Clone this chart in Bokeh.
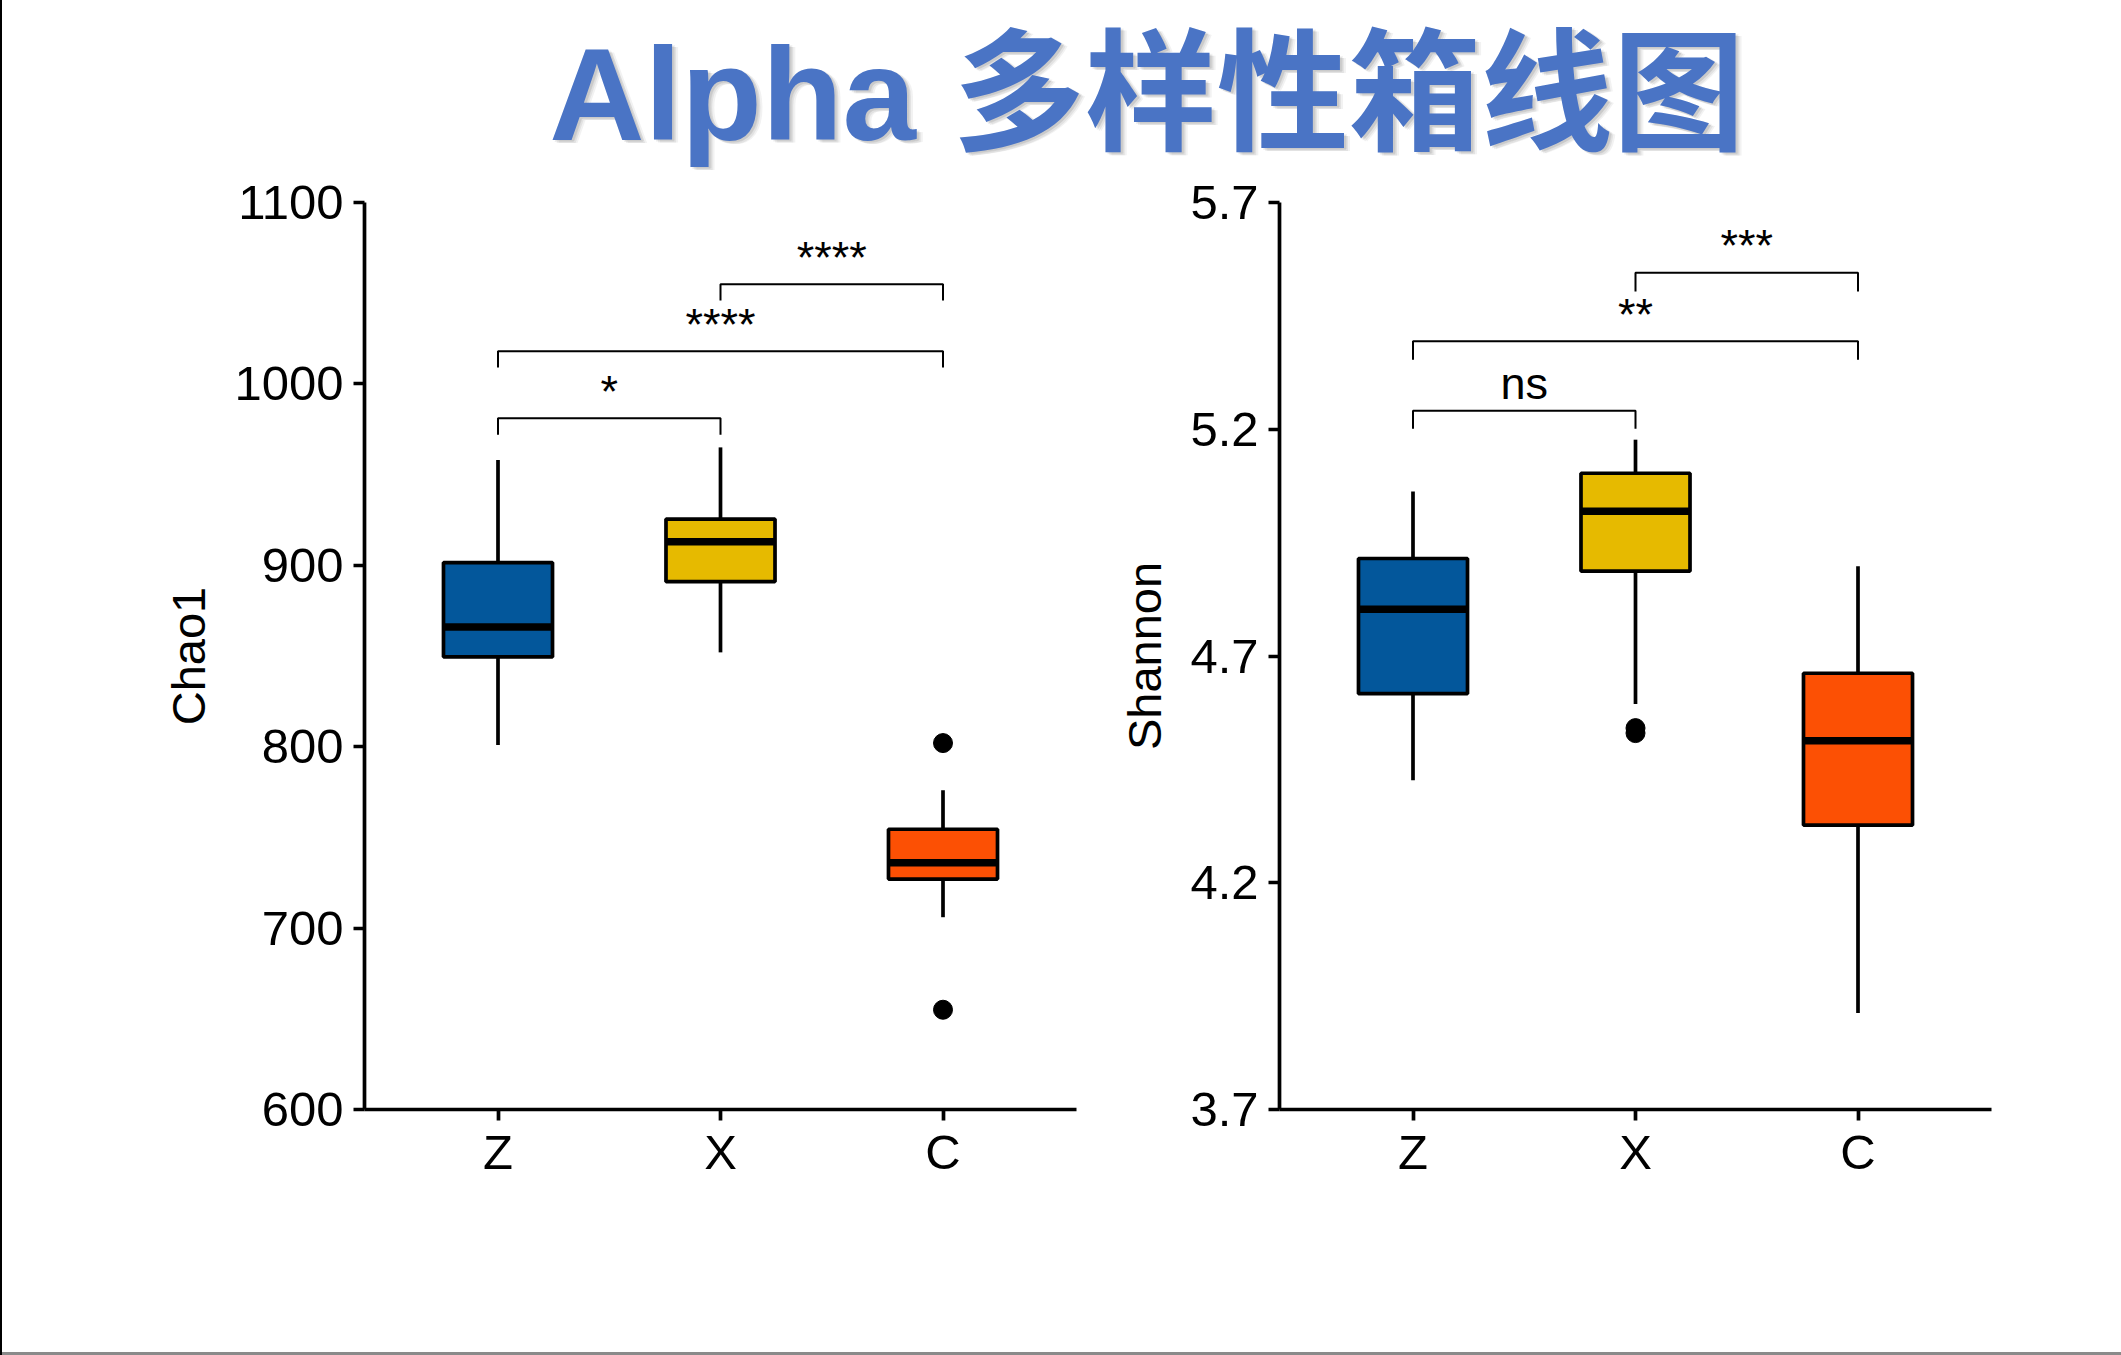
from bokeh.plotting import figure
from bokeh.models import Range1d, FixedTicker, PrintfTickFormatter, Div
from bokeh.layouts import row, column
from bokeh.core.properties import value
from bokeh.embed import file_html
from bokeh.resources import INLINE

# ---------------- data ----------------
title_text = "Alpha 多样性箱线图"
categories = ["Z", "X", "C"]

chao1_lower = [801, 852, 706]
chao1_q1 = [849.5, 891, 727]
chao1_median = [866, 913, 736]
chao1_q3 = [901.5, 925.5, 754.5]
chao1_upper = [958, 965, 776]
chao1_outlier_group = ["C", "C"]
chao1_outlier_value = [802, 655]
chao1_ticks = [600, 700, 800, 900, 1000, 1100]

shannon_lower = [4.426, 4.594, 3.913]
shannon_q1 = [4.617, 4.887, 4.327]
shannon_median = [4.803, 5.019, 4.513]
shannon_q3 = [4.915, 5.103, 4.662]
shannon_upper = [5.063, 5.177, 4.898]
shannon_outlier_group = ["X", "X"]
shannon_outlier_value = [4.541, 4.530]
shannon_ticks = [3.7, 4.2, 4.7, 5.2, 5.7]

bracket_from = ["Z", "Z", "X"]
bracket_to = ["X", "C", "C"]
chao1_bracket_y = [981, 1018, 1055]
chao1_bracket_tip = [972, 1009, 1046]
chao1_labels = ["*", "****", "****"]
shannon_bracket_y = [5.241, 5.394, 5.545]
shannon_bracket_tip = [5.201, 5.353, 5.504]
shannon_labels = ["ns", "**", "***"]

# ---------------- style ----------------
FONT = "Liberation Sans"
box_colors = ["#03579B", "#E6BA00", "#FC5004"]
pos = {c: i + 1 for i, c in enumerate(categories)}
LW = 3.7
TITLE_H = 174
PLOT_H = 1355 - TITLE_H - 3


def box_panel(width, lower, q1, med, q3, upper, out_g, out_v, ticks, yr,
              b_y, b_tip, b_lab, ylabel, fmt, mb_left, mb_right):
    p = figure(width=width, height=PLOT_H, output_backend="svg", toolbar_location=None,
               x_range=Range1d(0.4, 3.6), y_range=Range1d(*yr),
               min_border_left=mb_left, min_border_right=mb_right,
               min_border_top=202 - TITLE_H, min_border_bottom=243)
    p.grid.visible = False
    p.outline_line_color = None
    p.background_fill_color = "white"
    p.border_fill_color = "white"
    xs = [pos[c] for c in categories]
    # whiskers
    p.segment(x0=xs, y0=q3, x1=xs, y1=upper, line_color="black", line_width=LW)
    p.segment(x0=xs, y0=lower, x1=xs, y1=q1, line_color="black", line_width=LW)
    # boxes
    p.vbar(x=xs, width=0.49, bottom=q1, top=q3, fill_color=box_colors,
           line_color="black", line_width=LW)
    # medians
    p.segment(x0=[x - 0.245 for x in xs], y0=med, x1=[x + 0.245 for x in xs], y1=med,
              line_color="black", line_width=7.5)
    # outliers
    p.scatter(x=[pos[g] for g in out_g], y=out_v, size=19, color="black")
    # significance brackets
    bx = []
    by = []
    for a, b, y, t in zip(bracket_from, bracket_to, b_y, b_tip):
        bx.append([pos[a], pos[a], pos[b], pos[b]])
        by.append([t, y, y, t])
    p.multi_line(xs=bx, ys=by, line_color="black", line_width=2)
    p.text(x=[(pos[a] + pos[b]) / 2 for a, b in zip(bracket_from, bracket_to)], y=b_y,
           text=b_lab, text_align="center", text_baseline="alphabetic", y_offset=-27,
           text_font=value(FONT), text_font_size="45px", text_color="black")
    # axes
    p.xaxis.ticker = FixedTicker(ticks=xs)
    p.xaxis.major_label_overrides = {pos[c]: c for c in categories}
    p.yaxis.ticker = FixedTicker(ticks=ticks)
    if fmt:
        p.yaxis.formatter = PrintfTickFormatter(format=fmt)
    for ax in p.axis:
        ax.axis_line_width = LW
        ax.axis_line_color = "black"
        ax.major_tick_line_width = LW
        ax.major_tick_line_color = "black"
        ax.major_tick_out = 11
        ax.major_tick_in = 0
        ax.minor_tick_line_color = None
        ax.major_label_text_font = FONT
        ax.major_label_text_color = "black"
    p.xaxis.major_label_text_font_size = "49px"
    p.xaxis.major_label_standoff = 4
    p.yaxis.major_label_text_font_size = "49px"
    p.yaxis.major_label_standoff = 10
    p.yaxis.axis_label = ylabel
    p.yaxis.axis_label_text_font = FONT
    p.yaxis.axis_label_text_font_size = "47px"
    p.yaxis.axis_label_text_font_style = "normal"
    p.yaxis.axis_label_text_color = "black"
    p.yaxis.axis_label_standoff = 16
    return p


left = box_panel(1098, chao1_lower, chao1_q1, chao1_median, chao1_q3, chao1_upper,
                 chao1_outlier_group, chao1_outlier_value, chao1_ticks, (600, 1100),
                 chao1_bracket_y, chao1_bracket_tip, chao1_labels, "Chao1", None, 362, 24)
right = box_panel(1021, shannon_lower, shannon_q1, shannon_median, shannon_q3, shannon_upper,
                  shannon_outlier_group, shannon_outlier_value, shannon_ticks, (3.7, 5.7),
                  shannon_bracket_y, shannon_bracket_tip, shannon_labels, "Shannon", "%.1f", 179, 130)

# ---------------- title ----------------
tp = figure(width=2119, height=TITLE_H, output_backend="svg", toolbar_location=None,
            x_range=Range1d(0, 2119), y_range=Range1d(TITLE_H, 0),
            x_axis_type=None, y_axis_type=None, min_border=0)
tp.outline_line_color = None
tp.grid.visible = False
TFONT = value("Liberation Sans, Noto Sans CJK SC")
TY = 94
for dx, dy, a in [(2, 2, 0.10), (4, 3, 0.10), (6, 3, 0.08), (3, 1, 0.07)]:
    tp.text(x=[1144.5], y=[TY], text=[title_text], text_align="center",
            text_baseline="alphabetic", x_offset=dx, y_offset=dy,
            text_font=TFONT, text_font_size="132px", text_font_style="bold",
            text_color="#555555", text_alpha=a)
tp.text(x=[1144.5], y=[TY], text=[title_text], text_align="center",
        text_baseline="alphabetic", text_font=TFONT, text_font_size="132px",
        text_font_style="bold", text_color="#4A74C5")

left_edge = Div(width=2, height=1355, margin=0, styles={"background-color": "#000000"})
bottom_edge = Div(width=2119, height=3, margin=0, styles={"background-color": "#8a8a8a"})

layout = row(left_edge, column(tp, row(left, right, spacing=0), bottom_edge, spacing=0), spacing=0)

open("out.html", "w").write(file_html(layout, INLINE))
